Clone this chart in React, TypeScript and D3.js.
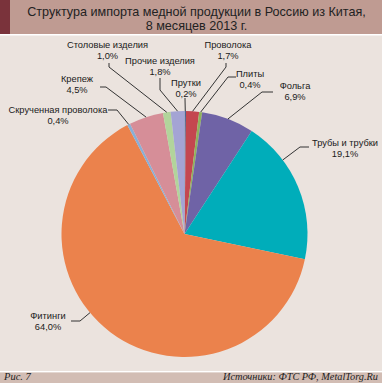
import React from "react";
import * as d3 from "d3";

const categories = [
  "Прутки",
  "Проволока",
  "Плиты",
  "Фольга",
  "Трубы и трубки",
  "Фитинги",
  "Скрученная проволока",
  "Крепеж",
  "Столовые изделия",
  "Прочие изделия",
];
const values = [0.2, 1.7, 0.4, 6.9, 19.1, 64.0, 0.4, 4.5, 1.0, 1.8];
const valueLabels = ["0,2%", "1,7%", "0,4%", "6,9%", "19,1%", "64,0%", "0,4%", "4,5%", "1,0%", "1,8%"];
const colors = [
  "#4a6690",
  "#c4474f",
  "#8fb35c",
  "#6f63a6",
  "#00adba",
  "#eb824c",
  "#89afd6",
  "#d68e98",
  "#b2d49b",
  "#a4a4d4",
];

// label layout: text center x, first baseline y, leader start, elbow
const labelLayout = [
  { x: 186, y: 86, s: [185, 98], e: [185, 99] },
  { x: 228, y: 48, s: [226, 63], e: [226, 67] },
  { x: 250, y: 77, s: [236, 77], e: [228, 77] },
  { x: 295, y: 89, s: [273, 92], e: [262, 92] },
  { x: 345, y: 146, s: [309, 147], e: [300, 147] },
  { x: 48, y: 319, s: [71, 321], e: [80, 321] },
  { x: 58, y: 113, s: [108, 110], e: [117, 110] },
  { x: 77, y: 82, s: [100, 87], e: [106, 87] },
  { x: 107.5, y: 48, s: [109, 63], e: [109, 67] },
  { x: 160, y: 64, s: [160, 78], e: [160, 90] },
];

const W = 382;
const H = 383;
const cx = 184.5;
const cy = 234;
const R = 123;

export default function App() {
  const pie = d3
    .pie<number>()
    .sort(null)
    .value((d) => d)
    .startAngle(0)
    .endAngle(2 * Math.PI);
  const arcs = pie(values);
  const arcGen = d3.arc<d3.PieArcDatum<number>>().innerRadius(0).outerRadius(R);

  const endPoint = (i: number) => {
    const a = arcs[i];
    const el = labelLayout[i].e;
    let ang = (a.startAngle + a.endAngle) / 2;
    if (values[i] >= 10) {
      const dx = el[0] - cx;
      const dy = el[1] - cy;
      let t = Math.atan2(dx, -dy);
      if (t < 0) t += 2 * Math.PI;
      ang = Math.max(a.startAngle, Math.min(a.endAngle, t));
    }
    return [cx + R * Math.sin(ang), cy - R * Math.cos(ang)];
  };

  const font = "'Liberation Sans', Arial, sans-serif";

  return (
    <svg
      width={W}
      height={H}
      style={{ position: "absolute", left: 0, top: 0 }}
      xmlns="http://www.w3.org/2000/svg"
    >
      <rect x={0} y={0} width={W} height={H} fill="#ebe3de" />
      {/* title bar */}
      <rect x={0} y={0} width={W} height={34} fill="#bf9b92" />
      <rect x={0} y={0} width={10} height={34} fill="#7a333b" />
      <rect x={0} y={34} width={W} height={1.5} fill="#ffffff" />
      <text
        x={196.5}
        y={16}
        textAnchor="middle"
        fontFamily={font}
        fontSize={12.6}
        fill="#222"
      >
        Структура импорта медной продукции в Россию из Китая,
      </text>
      <text
        x={196.5}
        y={29.5}
        textAnchor="middle"
        fontFamily={font}
        fontSize={12.6}
        fill="#222"
      >
        8 месяцев 2013 г.
      </text>

      {/* pie */}
      <g transform={`translate(${cx},${cy})`}>
        {arcs.map((a, i) => (
          <path key={i} d={arcGen(a) || ""} fill={colors[i]} />
        ))}
      </g>

      {/* leaders */}
      {labelLayout.map((l, i) => {
        const p = endPoint(i);
        return (
          <polyline
            key={"l" + i}
            points={`${l.s[0]},${l.s[1]} ${l.e[0]},${l.e[1]} ${p[0]},${p[1]}`}
            fill="none"
            stroke="#333"
            strokeWidth={1}
          />
        );
      })}

      {/* labels */}
      {labelLayout.map((l, i) => (
        <text
          key={"t" + i}
          textAnchor="middle"
          fontFamily={font}
          fontSize={9.3}
          fill="#1a1a1a"
        >
          <tspan x={l.x} y={l.y}>
            {categories[i]}
          </tspan>
          <tspan x={l.x} y={l.y + 11}>
            {valueLabels[i]}
          </tspan>
        </text>
      ))}

      {/* footer */}
      <rect x={0} y={371} width={W} height={1.5} fill="#ffffff" />
      <rect x={0} y={372.5} width={W} height={H - 372.5} fill="#d2bdb4" />
      <text
        x={4}
        y={380}
        fontFamily="'Liberation Serif', 'Times New Roman', serif"
        fontStyle="italic"
        fontSize={10.5}
        fill="#222"
      >
        Рис. 7
      </text>
      <text
        x={378}
        y={380}
        textAnchor="end"
        fontFamily="'Liberation Serif', 'Times New Roman', serif"
        fontStyle="italic"
        fontSize={10.3}
        fill="#222"
      >
        Источники: ФТС РФ, MetalTorg.Ru
      </text>
    </svg>
  );
}
